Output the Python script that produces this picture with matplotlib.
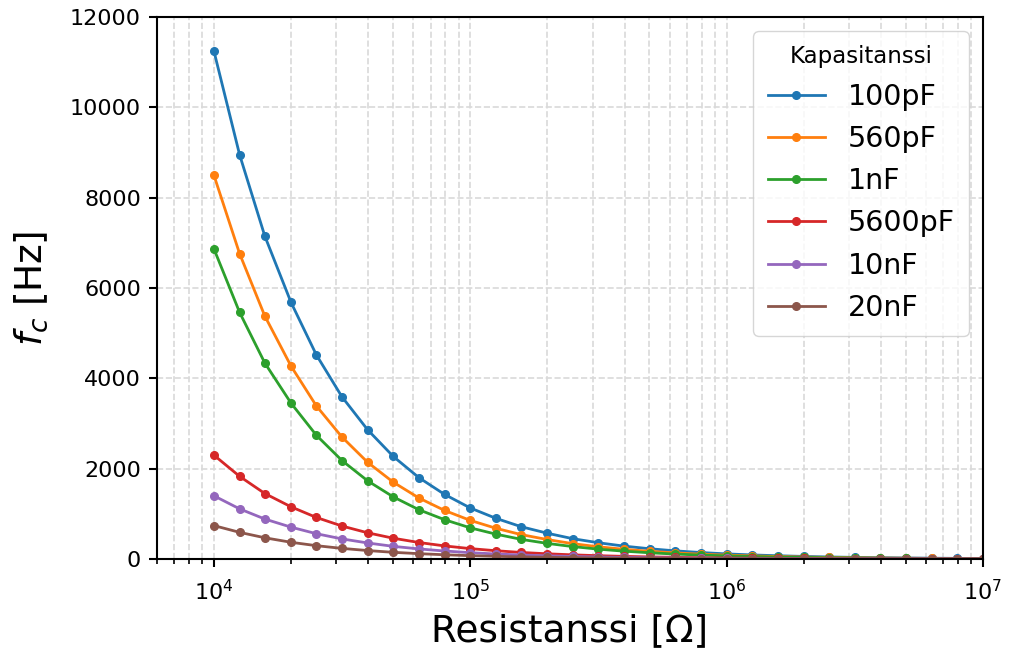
import numpy as np
import matplotlib.pyplot as plt

# Resistance values (10 per decade, 1e4 ... 1e7)
R = [1.0e4, 1.26e4, 1.58e4, 2.0e4, 2.51e4, 3.16e4, 3.98e4, 5.01e4, 6.31e4, 7.94e4,
     1.0e5, 1.26e5, 1.58e5, 2.0e5, 2.51e5, 3.16e5, 3.98e5, 5.01e5, 6.31e5, 7.94e5,
     1.0e6, 1.26e6, 1.58e6, 2.0e6, 2.51e6, 3.16e6, 3.98e6, 5.01e6, 6.31e6, 7.94e6,
     1.0e7]

labels = ['100pF', '560pF', '1nF', '5600pF', '10nF', '20nF']

fc_100p = [11250, 8950, 7150, 5680, 4520, 3590, 2860, 2270, 1800, 1430,
           1130, 900, 715, 570, 450, 360, 285, 227, 180, 143,
           113, 90, 72, 57, 45, 36, 29, 23, 18, 14, 11]
fc_560p = [8500, 6760, 5380, 4270, 3390, 2700, 2140, 1700, 1350, 1075,
           855, 680, 540, 430, 340, 270, 215, 170, 135, 107,
           85, 68, 54, 43, 34, 27, 21, 17, 13, 11, 8]
fc_1n = [6870, 5460, 4340, 3450, 2740, 2180, 1730, 1375, 1090, 870,
         690, 550, 435, 345, 275, 218, 173, 138, 109, 87,
         69, 55, 43, 35, 27, 22, 17, 14, 11, 9, 7]
fc_5600p = [2300, 1830, 1450, 1155, 920, 730, 580, 460, 365, 290,
            230, 183, 145, 115, 92, 73, 58, 46, 37, 29,
            23, 18, 15, 12, 9, 7, 6, 5, 4, 3, 2]
fc_10n = [1400, 1110, 885, 705, 560, 445, 355, 280, 223, 177,
          140, 111, 89, 70, 56, 45, 35, 28, 22, 18,
          14, 11, 9, 7, 6, 4, 4, 3, 2, 2, 1]
fc_20n = [740, 590, 470, 370, 295, 235, 187, 148, 118, 94,
          74, 59, 47, 37, 30, 23, 19, 15, 12, 9,
          7, 6, 5, 4, 3, 2, 2, 1, 1, 1, 1]

series = [fc_100p, fc_560p, fc_1n, fc_5600p, fc_10n, fc_20n]

fig = plt.figure(figsize=(10.1, 6.5), dpi=100)
ax = fig.add_axes([157/1010, 1 - 559/650, (983-157)/1010, (559-17)/650])

for y, lab in zip(series, labels):
    ax.plot(R, y, marker='o', markersize=5.5, lw=2, label=lab)

ax.set_xscale('log')
ax.set_xlim(6e3, 1e7)
ax.set_ylim(0, 12000)
ax.grid(True, which='both', linestyle='--', color='#d9d9d9', lw=1.2)
ax.tick_params(labelsize=16, width=1.5, length=5.5)
ax.tick_params(axis='x', pad=9)
ax.tick_params(axis='y', pad=6)
ax.tick_params(which='minor', width=1.2, length=3.5)
for s in ax.spines.values():
    s.set_linewidth(1.5)
ax.set_xlabel('Resistanssi [Ω]', fontsize=27, labelpad=6)
ax.set_ylabel('$f_c$ [Hz]', fontsize=27, labelpad=14)

leg = ax.legend(title='Kapasitanssi', fontsize=20.5, title_fontsize=16.5,
                loc='upper right', borderpad=0.5)

fig.savefig('out.png', dpi=100)
